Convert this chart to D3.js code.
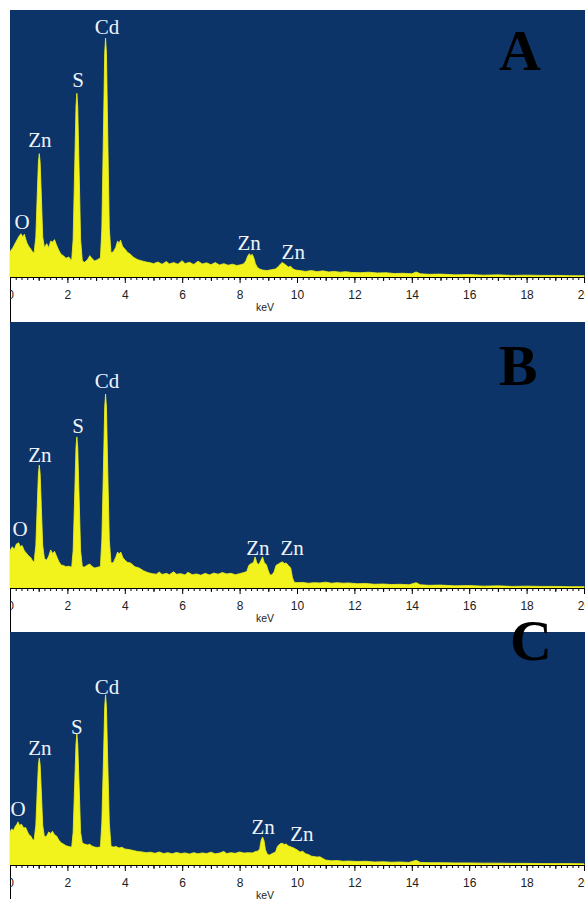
<!DOCTYPE html>
<html>
<head>
<meta charset="utf-8">
<script src="https://cdn.jsdelivr.net/npm/d3@7/dist/d3.min.js"></script>
<style>
  html, body { margin: 0; padding: 0; background: #ffffff; }
  svg { display: block; }
</style>
</head>
<body>
<script>
// ---------------- DATA ----------------
const energyTicks = [0, 2, 4, 6, 8, 10, 12, 14, 16, 18, 20];
const axisTitle = "keV";
const panelNames = ["A", "B", "C"];

// [keV, intensity (relative units)]
const spectrumA = [
  [0.0, 9.5], [0.1, 11], [0.2, 13], [0.3, 15], [0.38, 16.2], [0.45, 15], [0.5, 16], [0.58, 13], [0.65, 11.5], [0.72, 10.5], [0.8, 9.2],
  [0.84, 9], [0.9, 15], [0.95, 31], [0.99, 43], [1.02, 46.2], [1.05, 43], [1.09, 31], [1.14, 15], [1.2, 11],
  [1.28, 12.5], [1.35, 11], [1.42, 13.5], [1.48, 13], [1.55, 14], [1.62, 12], [1.7, 10], [1.78, 8.5], [1.86, 8], [1.95, 7], [2.05, 7.5], [2.12, 6.5],
  [2.15, 6.5], [2.2, 14], [2.26, 44], [2.3, 64], [2.33, 68.8], [2.36, 64], [2.4, 44], [2.46, 14], [2.52, 6],
  [2.6, 5.5], [2.7, 6.5], [2.78, 8], [2.85, 7], [2.95, 6], [3.05, 6.5], [3.12, 7],
  [3.15, 7], [3.2, 18], [3.26, 57], [3.3, 84], [3.33, 89.5], [3.36, 84], [3.4, 57], [3.46, 18], [3.52, 9],
  [3.6, 9.5], [3.68, 11], [3.75, 13.5], [3.8, 12.5], [3.85, 13.8], [3.92, 11.5], [4.0, 10.5], [4.1, 9.2], [4.2, 8.5], [4.3, 7.4], [4.45, 6.5], [4.6, 6], [4.75, 5.6], [4.9, 5.3],
  [5.0, 5], [5.15, 5.6], [5.3, 4.8], [5.45, 5.8], [5.55, 4.9], [5.7, 5.4], [5.85, 4.8], [6.0, 6.1], [6.1, 5], [6.25, 5.5], [6.4, 4.7], [6.55, 5.9], [6.7, 4.9], [6.85, 5.3], [7.0, 4.6], [7.15, 5.4], [7.3, 4.5], [7.45, 5], [7.6, 4.4], [7.75, 4.8], [7.9, 4.3], [8.05, 4.6], [8.15, 5],
  [8.22, 6], [8.28, 7.8], [8.34, 8.7], [8.39, 8], [8.44, 8.5], [8.5, 7], [8.55, 5], [8.62, 3.6], [8.7, 3], [8.8, 2.6], [8.95, 2.4], [9.1, 2.7], [9.25, 3],
  [9.35, 3.9], [9.42, 4.8], [9.48, 5.4], [9.55, 5], [9.62, 4.4], [9.7, 3.7], [9.78, 4], [9.85, 3.1], [9.95, 2.6],
  [10.1, 2.4], [10.3, 2.1], [10.5, 2.4], [10.7, 2.0], [10.9, 2.3], [11.1, 1.9], [11.3, 2.1], [11.5, 1.8], [11.7, 2.0], [11.9, 1.7], [12.2, 1.6], [12.5, 1.8], [12.8, 1.5], [13.1, 1.6], [13.4, 1.3], [13.7, 1.4], [14.0, 1.2], [14.15, 1.9], [14.3, 1.2], [14.6, 1.0], [15.0, 1.1], [15.5, 0.8], [16.0, 0.9], [16.5, 0.7], [17.0, 0.8], [17.5, 0.6], [18.0, 0.7], [18.5, 0.6], [19.0, 0.6], [19.5, 0.5], [20.0, 0.5]
];

const spectrumB = [
  [0.0, 14], [0.08, 15.5], [0.15, 14.5], [0.22, 16.5], [0.3, 17], [0.36, 15.5], [0.42, 16], [0.5, 14], [0.58, 13], [0.65, 12], [0.72, 11.5], [0.8, 10],
  [0.84, 9.8], [0.9, 16], [0.95, 31], [0.99, 43], [1.02, 46.2], [1.05, 43], [1.09, 31], [1.14, 16], [1.2, 11],
  [1.28, 10.5], [1.35, 12], [1.42, 14.3], [1.48, 13], [1.55, 13.8], [1.62, 12], [1.7, 10], [1.78, 8.6], [1.86, 8.5], [1.95, 8], [2.05, 8.2], [2.12, 7.9],
  [2.15, 7.9], [2.2, 14], [2.26, 37], [2.3, 53], [2.33, 56.8], [2.36, 53], [2.4, 37], [2.46, 14], [2.52, 8],
  [2.6, 7.9], [2.7, 8.6], [2.78, 9], [2.85, 8.2], [2.95, 7.5], [3.05, 7.8], [3.12, 8],
  [3.15, 8], [3.2, 18], [3.26, 47], [3.3, 68], [3.33, 72.9], [3.36, 68], [3.4, 47], [3.46, 18], [3.52, 9.4],
  [3.6, 9.5], [3.68, 11.5], [3.75, 13.5], [3.8, 12.8], [3.86, 13.5], [3.93, 11.5], [4.0, 10.5], [4.1, 9.6], [4.2, 9.4], [4.35, 8], [4.5, 7.5], [4.65, 6.5], [4.8, 5.8], [4.95, 5.4],
  [5.1, 5.2], [5.2, 6], [5.3, 5.1], [5.45, 5.5], [5.55, 5], [5.7, 6.1], [5.8, 5.2], [5.95, 5.4], [6.1, 4.9], [6.2, 5.9], [6.35, 5], [6.5, 5.3], [6.65, 4.8], [6.8, 5.5], [6.95, 4.9], [7.1, 5.6], [7.25, 5.2], [7.4, 5.8], [7.55, 5.3], [7.7, 5.5], [7.85, 5], [8.0, 5.4], [8.15, 5.8], [8.25, 6.2],
  [8.32, 8.5], [8.4, 9.2], [8.48, 9.5], [8.54, 11.7], [8.6, 9.5], [8.66, 8.8], [8.72, 9.8], [8.8, 11.7], [8.86, 9.5], [8.93, 8.8], [9.0, 6.5], [9.05, 5], [9.12, 4.9], [9.2, 6],
  [9.27, 8.5], [9.35, 9], [9.42, 9.5], [9.5, 9.8], [9.56, 9.2], [9.62, 9.4], [9.7, 8.5], [9.78, 7.5], [9.84, 4], [9.9, 2.2], [10.0, 2],
  [10.2, 2.1], [10.4, 1.8], [10.6, 2.0], [10.8, 1.9], [11.0, 2.2], [11.2, 1.8], [11.4, 2.0], [11.6, 1.8], [11.8, 1.9], [12.1, 1.6], [12.4, 1.7], [12.7, 1.4], [13.0, 1.5], [13.3, 1.3], [13.6, 1.4], [13.9, 1.2], [14.15, 2.0], [14.3, 1.2], [14.6, 1.0], [15.0, 1.1], [15.5, 0.8], [16.0, 0.9], [16.5, 0.7], [17.0, 0.8], [17.5, 0.6], [18.0, 0.7], [18.5, 0.6], [19.0, 0.6], [19.5, 0.5], [20.0, 0.5]
];

const spectrumC = [
  [0.0, 14.2], [0.06, 15.5], [0.12, 14.8], [0.18, 16.5], [0.24, 17.5], [0.28, 18.5], [0.33, 17], [0.4, 17.5], [0.47, 16], [0.55, 16], [0.6, 14.5], [0.66, 13], [0.72, 12.5], [0.8, 10.7],
  [0.84, 10.7], [0.9, 17], [0.95, 32], [0.99, 43], [1.02, 45.9], [1.05, 43], [1.09, 32], [1.14, 17], [1.2, 12],
  [1.28, 12.5], [1.35, 14.2], [1.42, 13.5], [1.48, 14.5], [1.55, 13], [1.62, 12.5], [1.7, 10.7], [1.78, 9.5], [1.86, 9], [1.95, 8.3], [2.05, 7.9], [2.12, 7.7],
  [2.15, 7.7], [2.2, 14], [2.26, 37], [2.3, 52], [2.33, 56.2], [2.36, 52], [2.4, 37], [2.46, 14], [2.52, 9.4],
  [2.6, 9], [2.7, 8.6], [2.78, 8.9], [2.85, 8.2], [2.95, 7.7], [3.05, 7.5], [3.12, 7.7],
  [3.15, 7.7], [3.2, 18], [3.26, 47], [3.3, 68], [3.33, 73], [3.36, 68], [3.4, 47], [3.46, 18], [3.52, 8],
  [3.6, 7.7], [3.7, 7.9], [3.8, 7.3], [3.9, 7.6], [4.0, 6.9], [4.15, 6.6], [4.3, 6.2], [4.45, 5.8], [4.6, 5.6], [4.75, 5.3], [4.9, 5.5],
  [5.05, 5], [5.2, 5.6], [5.35, 4.9], [5.5, 5.3], [5.65, 4.8], [5.8, 5.4], [5.95, 4.9], [6.1, 5.2], [6.25, 4.7], [6.4, 5.3], [6.55, 4.8], [6.7, 5.2], [6.85, 4.9], [7.0, 5.5], [7.15, 4.8], [7.3, 5.1], [7.45, 5.8], [7.55, 4.9], [7.7, 5.3], [7.85, 5], [8.0, 5.6], [8.15, 5.1], [8.3, 5.3], [8.45, 5.2], [8.55, 5.8], [8.65, 6],
  [8.7, 7], [8.75, 10.5], [8.8, 12], [8.85, 10.5], [8.9, 6.5], [8.97, 4.5], [9.05, 4.3], [9.15, 5], [9.25, 5.5],
  [9.32, 8], [9.4, 9], [9.48, 9.4], [9.55, 8.8], [9.62, 9], [9.7, 8.2], [9.8, 7.7], [9.9, 7.2], [10.0, 6.5], [10.1, 5.6], [10.2, 5.9], [10.3, 4.8], [10.4, 4.5], [10.5, 3.8], [10.6, 3.6], [10.7, 3.4], [10.8, 3.5], [10.9, 2.8], [11.0, 2.1],
  [11.2, 1.8], [11.4, 1.9], [11.6, 1.6], [11.8, 1.7], [12.1, 1.5], [12.4, 1.6], [12.7, 1.3], [13.0, 1.4], [13.3, 1.2], [13.6, 1.3], [13.9, 1.1], [14.15, 2.0], [14.3, 1.1], [14.6, 1.0], [15.0, 1.0], [15.5, 0.9], [16.0, 0.9], [16.5, 0.8], [17.0, 0.8], [17.5, 0.7], [18.0, 0.7], [18.5, 0.6], [19.0, 0.6], [19.5, 0.6], [20.0, 0.5]
];

// peak annotations: [element, keV, intensity]
const labelsA = [["O", 0.42, 20.6], ["Zn", 1.04, 51.3], ["S", 2.37, 73.8], ["Cd", 3.38, 93.6], ["Zn", 8.33, 12.7], ["Zn", 9.87, 9.4]];
const labelsB = [["O", 0.35, 22.2], ["Zn", 1.04, 50], ["S", 2.37, 60.9], ["Cd", 3.38, 77.8], ["Zn", 8.64, 15], ["Zn", 9.83, 15]];
const labelsC = [["O", 0.28, 24], ["Zn", 1.04, 50.2], ["S", 2.33, 59.2], ["Cd", 3.38, 76.4], ["Zn", 8.82, 16.3], ["Zn", 10.17, 13.3]];

// ---------------- LAYOUT ----------------
const W = 585, H = 899;
const BLUE = "#0c3468", YELLOW = "#f2f21c";
const layout = [
  { top: 10,  axis: 277, bottom: 322, letterX: 520, letterY: 70 },
  { top: 322, axis: 588, bottom: 632, letterX: 518, letterY: 385 },
  { top: 632, axis: 865, bottom: 899, letterX: 531, letterY: 660 }
];
const spectra = [spectrumA, spectrumB, spectrumC];
const labels = [labelsA, labelsB, labelsC];

const svg = d3.select("body").append("svg")
  .attr("width", W).attr("height", H);
svg.append("rect").attr("width", W).attr("height", H).attr("fill", "#ffffff");

svg.append("defs").append("clipPath").attr("id", "labclip")
  .append("rect").attr("x", 10).attr("y", 0).attr("width", W).attr("height", H);

const x = d3.scaleLinear().domain([0, 20]).range([10, 584]);

layout.forEach((p, i) => {
  const y = d3.scaleLinear().domain([0, 100]).range([p.axis, p.top]);
  const g = svg.append("g");

  g.append("rect")
    .attr("x", 10).attr("y", p.top)
    .attr("width", W - 10).attr("height", p.axis - p.top)
    .attr("fill", BLUE);

  const area = d3.area()
    .x(d => x(d[0]))
    .y0(p.axis)
    .y1(d => y(d[1]))
    .curve(d3.curveLinear);

  g.append("path")
    .datum(spectra[i])
    .attr("d", area)
    .attr("fill", YELLOW)
    .attr("stroke", YELLOW)
    .attr("stroke-width", 0.8)
    .attr("stroke-linejoin", "miter");

  g.selectAll("text.el")
    .data(labels[i])
    .join("text")
    .attr("class", "el")
    .attr("x", d => x(d[1]))
    .attr("y", d => y(d[2]))
    .attr("dy", "0.35em")
    .attr("text-anchor", "middle")
    .attr("font-family", "'Liberation Serif', 'Times New Roman', serif")
    .attr("font-size", 21)
    .attr("fill", "#eef3fa")
    .text(d => d[0]);

  g.append("text")
    .attr("x", p.letterX).attr("y", p.letterY)
    .attr("text-anchor", "middle")
    .attr("font-family", "'Liberation Serif', 'Times New Roman', serif")
    .attr("font-weight", "bold")
    .attr("font-size", 58)
    .attr("fill", "#000000")
    .text(panelNames[i]);

  // left frame line in the axis band
  g.append("line")
    .attr("x1", 10.5).attr("x2", 10.5)
    .attr("y1", p.axis).attr("y2", p.bottom)
    .attr("stroke", "#000").attr("stroke-width", 1);

  // axis
  const ax = g.append("g").attr("transform", `translate(0,${p.axis})`);
  const minor = ax.append("g").call(
    d3.axisBottom(x).tickValues(d3.range(0, 20.001, 0.2)).tickSize(3).tickSizeOuter(0).tickFormat("")
  );
  minor.select(".domain").attr("stroke", "#000").attr("stroke-width", 1.2);
  const mid = ax.append("g").call(
    d3.axisBottom(x).tickValues(d3.range(1, 20, 2)).tickSize(4).tickSizeOuter(0).tickFormat("")
  );
  mid.select(".domain").remove();
  const major = ax.append("g").attr("clip-path", "url(#labclip)").call(
    d3.axisBottom(x).tickValues(energyTicks).tickSize(6).tickSizeOuter(0).tickPadding(7).tickFormat(d3.format("d"))
  );
  major.select(".domain").remove();
  major.selectAll("text")
    .attr("font-family", "'Liberation Sans', Arial, sans-serif")
    .attr("font-size", 12)
    .attr("fill", "#222");
  ax.selectAll(".tick line").attr("stroke", "#000");

  ax.append("text")
    .attr("x", 265).attr("y", 34)
    .attr("text-anchor", "middle")
    .attr("font-family", "'Liberation Sans', Arial, sans-serif")
    .attr("font-size", 10.5)
    .attr("fill", "#222")
    .text(axisTitle);
});
</script>
</body>
</html>
